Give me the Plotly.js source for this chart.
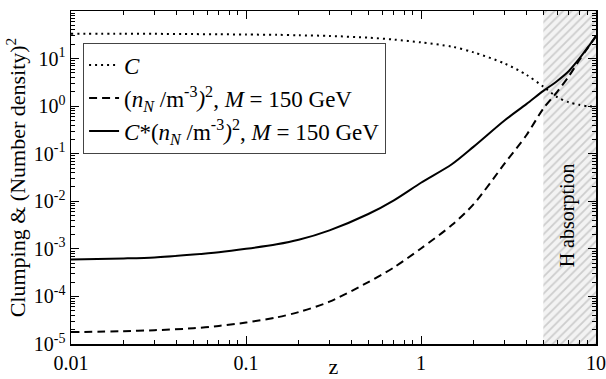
<!DOCTYPE html>
<html>
<head>
<meta charset="utf-8">
<script src="https://cdn.plot.ly/plotly-3.0.1.min.js"></script>
<style>
  html, body { margin: 0; padding: 0; background: #fff; }
  #plot { width: 606px; height: 379px; }
</style>
</head>
<body>
<div id="plot"></div>
<script>
const zValues = [0.01, 0.02, 0.03, 0.05, 0.07, 0.1, 0.15, 0.2, 0.3, 0.5, 0.7, 1, 1.5, 2, 3, 4, 5, 6, 7, 8, 9, 10];

// clumping factor C
const clumping = [33.1, 33.1, 33.1, 32.7, 32.4, 32.0, 31.6, 30.9, 29.9, 27.5, 25.1, 21.9, 17.8, 13.5, 7.9, 4.57,
                  2.57, 1.55, 1.2, 1.07, 1.0, 0.98];

// (n_N / m^-3)^2 for M = 150 GeV
const densitySq = [1.78e-5, 1.86e-5, 1.95e-5, 2.14e-5, 2.4e-5, 2.82e-5, 3.63e-5, 4.68e-5, 7.76e-5, 2.0e-4, 4.07e-4,
                   1.02e-3, 3.16e-3, 8.7e-3, 0.0617, 0.245, 0.89, 2.0, 4.27, 9.1, 17.0, 30.2];

// C * (n_N / m^-3)^2
const product = [6.0e-4, 6.3e-4, 6.6e-4, 7.6e-4, 8.5e-4, 1.0e-3, 1.245e-3, 1.55e-3, 2.45e-3, 5.4e-3, 0.0105,
                 0.0245, 0.060, 0.141, 0.50, 1.10, 2.09, 3.39, 5.5, 9.8, 17.4, 29.5];

// shaded "H absorption" band
const bandX = [5, 10, 10, 5, 5];
const bandY = [1e-5, 1e-5, 1e2, 1e2, 1e-5];

const xTickVals = [0.01, 0.1, 1, 10];
const xTickText = ['0.01', '0.1', '1', '10'];
const yTickVals = [1e-5, 1e-4, 1e-3, 1e-2, 1e-1, 1, 10, 100];
const yTickText = ['10<sup>-5</sup>', '10<sup>-4</sup>', '10<sup>-3</sup>', '10<sup>-2</sup>',
                   '10<sup>-1</sup>', '10<sup>0</sup>', '10<sup>1</sup>', '10<sup>2</sup>'];

const serif = "'Liberation Serif', 'Times New Roman', serif";

const band = {
    x: bandX,
    y: bandY,
    type: 'scatter',
    mode: 'lines',
    fill: 'toself',
    fillcolor: 'rgba(255,255,255,0)',
    fillpattern: { shape: '/', fgcolor: '#cdcdcd', bgcolor: '#f3f3f3', size: 6, solidity: 0.3 },
    line: { width: 0 },
    showlegend: false,
    hoverinfo: 'skip'
};

const traceC = {
    x: zValues,
    y: clumping,
    type: 'scatter',
    mode: 'lines',
    name: '<i>C</i>',
    legendgroup: 'a',
    line: { color: 'black', width: 2, dash: '2px,4px', shape: 'spline', smoothing: 0.8 }
};

const traceN = {
    x: zValues,
    y: densitySq,
    type: 'scatter',
    mode: 'lines',
    name: '(<i>n<sub>N</sub></i> /m<sup>-3</sup><i>)</i><sup>2</sup>, <i>M</i> = 150 GeV',
    legendgroup: 'b',
    line: { color: 'black', width: 2, dash: '8px,5px', shape: 'spline', smoothing: 0.8 }
};

const traceCN = {
    x: zValues,
    y: product,
    type: 'scatter',
    mode: 'lines',
    name: '<i>C</i>*(<i>n<sub>N</sub></i> /m<sup>-3</sup><i>)</i><sup>2</sup>, <i>M</i> = 150 GeV',
    legendgroup: 'c',
    line: { color: 'black', width: 2, shape: 'spline', smoothing: 0.8 }
};

const layout = {
    width: 606,
    height: 379,
    margin: { l: 71, r: 10, t: 11, b: 35 },
    paper_bgcolor: 'white',
    plot_bgcolor: 'white',
    font: { family: serif, size: 20, color: 'black' },
    showlegend: true,
    legend: {
        x: 0.023, y: 0.905, xanchor: 'left', yanchor: 'top',
        bgcolor: 'white', bordercolor: '#444', borderwidth: 1,
        font: { family: serif, size: 23, color: 'black' },
        traceorder: 'normal',
        tracegroupgap: 0
    },
    xaxis: {
        type: 'log',
        range: [-2, 1],
        tickmode: 'array',
        tickvals: xTickVals,
        ticktext: xTickText,
        ticks: 'inside',
        ticklen: 8,
        tickcolor: 'black',
        showline: true,
        linecolor: 'black',
        linewidth: 1.5,
        mirror: 'ticks',
        showgrid: false,
        zeroline: false,
        minor: { dtick: 'D1', ticks: 'inside', ticklen: 4, tickcolor: 'black', showgrid: false },
        tickfont: { family: serif, size: 20 },
        title: { text: 'z', font: { family: serif, size: 22 }, standoff: 2 }
    },
    yaxis: {
        type: 'log',
        range: [-5, 2],
        tickmode: 'array',
        tickvals: yTickVals,
        ticktext: yTickText,
        ticks: 'inside',
        ticklen: 8,
        tickcolor: 'black',
        showline: true,
        linecolor: 'black',
        linewidth: 1.5,
        mirror: 'ticks',
        showgrid: false,
        zeroline: false,
        minor: { dtick: 'D1', ticks: 'inside', ticklen: 4, tickcolor: 'black', showgrid: false },
        tickfont: { family: serif, size: 20 },
        title: { text: 'Clumping &amp; (Number density)<sup>2</sup>', font: { family: serif, size: 22 }, standoff: 2 }
    },
    annotations: [{
        x: Math.log10(6.9),
        y: -2.3,
        xref: 'x',
        yref: 'y',
        text: 'H absorption',
        textangle: -90,
        showarrow: false,
        font: { family: serif, size: 20, color: 'black' }
    }]
};

Plotly.newPlot('plot', [band, traceC, traceN, traceCN], layout, { staticPlot: true });
</script>
</body>
</html>
